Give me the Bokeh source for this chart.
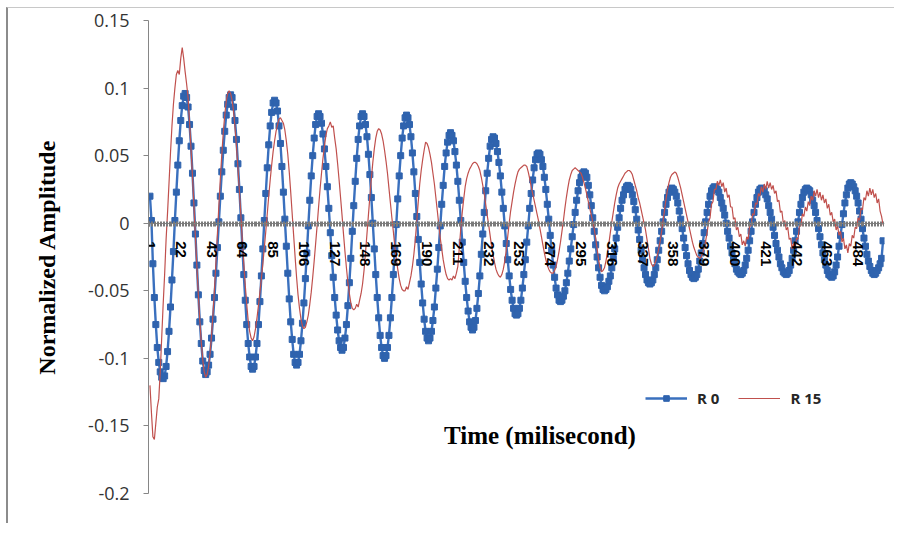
from bokeh.plotting import figure
from bokeh.models import Range1d, FixedTicker, Legend, LegendItem, Label
from bokeh.embed import file_html
from bokeh.resources import INLINE

# R0 values (in thousandths of normalized amplitude), samples 1..501
r0_milli = [
    20, 2, -30, -55, -75, -92, -103, -110, -114, -115,
    -113, -106, -95, -80, -62, -42, -21, 2, 23, 43,
    61, 76, 87, 94, 96, 93, 86, 73, 57, 37,
    15, -8, -31, -53, -73, -89, -102, -109, -112, -110,
    -105, -97, -85, -71, -55, -37, -18, 1, 20, 38,
    54, 68, 80, 88, 93, 95, 93, 86, 76, 62,
    44, 25, 4, -17, -38, -57, -75, -89, -99, -106,
    -108, -106, -99, -89, -75, -58, -39, -19, 2, 22,
    41, 58, 72, 82, 89, 91, 89, 83, 72, 59,
    42, 23, 3, -17, -37, -56, -73, -86, -97, -103,
    -105, -103, -97, -87, -74, -59, -41, -22, -2, 17,
    35, 50, 63, 73, 79, 81, 79, 74, 66, 55,
    42, 27, 11, -7, -24, -40, -55, -68, -79, -87,
    -92, -94, -92, -85, -75, -61, -44, -26, -6, 13,
    31, 48, 62, 72, 79, 81, 79, 73, 64, 51,
    36, 19, 0, -19, -38, -55, -70, -83, -92, -98,
    -100, -98, -92, -83, -70, -55, -38, -19, -1, 18,
    35, 50, 63, 72, 78, 80, 78, 73, 64, 52,
    38, 22, 5, -12, -29, -45, -59, -71, -80, -85,
    -87, -85, -80, -72, -62, -48, -34, -18, -2, 14,
    28, 42, 52, 60, 65, 67, 65, 61, 53, 43,
    31, 17, 2, -14, -29, -43, -55, -65, -73, -77,
    -79, -77, -72, -63, -52, -39, -23, -8, 8, 24,
    37, 48, 57, 62, 64, 63, 59, 53, 45, 35,
    23, 11, -2, -15, -27, -39, -49, -57, -63, -67,
    -68, -67, -63, -57, -48, -38, -27, -14, -2, 11,
    22, 32, 41, 47, 51, 52, 51, 47, 42, 34,
    25, 14, 3, -9, -20, -31, -40, -48, -53, -57,
    -58, -57, -54, -50, -44, -37, -28, -19, -10, -1,
    8, 17, 24, 30, 34, 37, 38, 37, 34, 28,
    21, 13, 4, -6, -16, -25, -33, -40, -46, -49,
    -50, -49, -47, -43, -39, -33, -26, -19, -11, -3,
    4, 11, 17, 21, 25, 27, 28, 27, 25, 21,
    16, 10, 3, -5, -12, -20, -27, -33, -38, -42,
    -44, -45, -44, -42, -38, -33, -27, -20, -13, -6,
    1, 8, 14, 19, 23, 25, 26, 25, 23, 20,
    15, 9, 3, -4, -11, -18, -24, -30, -35, -38,
    -40, -41, -40, -38, -34, -28, -22, -15, -7, 1,
    8, 14, 20, 24, 26, 27, 26, 25, 23, 19,
    15, 11, 6, 0, -6, -11, -17, -22, -26, -30,
    -34, -36, -37, -38, -37, -35, -31, -26, -20, -13,
    -6, 1, 8, 14, 19, 23, 25, 26, 25, 24,
    21, 18, 13, 8, 3, -3, -9, -15, -20, -25,
    -30, -33, -36, -37, -38, -37, -35, -31, -26, -20,
    -13, -6, 1, 8, 14, 19, 23, 25, 26, 25,
    24, 21, 17, 13, 8, 2, -4, -10, -16, -22,
    -27, -31, -35, -38, -39, -40, -39, -36, -31, -25,
    -17, -9, -1, 7, 15, 21, 26, 29, 30, 29,
    27, 24, 20, 15, 9, 3, -4, -11, -17, -23,
    -28, -32, -35, -37, -38, -37, -35, -33, -30, -26,
    -13,
]

# R15 values (in thousandths of normalized amplitude), samples 1..501
r15_milli = [
    -120, -140, -158, -160, -148, -136, -130, -110, -85, -60,
    -38, -12, 8, 30, 52, 72, 88, 100, 110, 113,
    110, 122, 130, 122, 112, 103, 93, 75, 55, 35,
    13, -10, -32, -53, -72, -88, -101, -110, -114, -112,
    -106, -96, -83, -67, -49, -29, -8, 13, 33, 51,
    67, 80, 90, 96, 98, 96, 91, 83, 71, 57,
    41, 24, 6, -13, -30, -46, -60, -72, -80, -85,
    -87, -84, -78, -70, -61, -51, -41, -30, -18, -6,
    7, 20, 32, 43, 53, 61, 68, 73, 77, 78,
    76, 74, 69, 61, 51, 38, 23, 7, -9, -25,
    -40, -53, -63, -71, -76, -78, -77, -73, -68, -60,
    -51, -40, -28, -15, -2, 12, 25, 37, 48, 57,
    65, 70, 72, 75, 71, 72, 63, 55, 44, 32,
    19, 6, -8, -21, -33, -44, -52, -59, -63, -64,
    -63, -60, -62, -57, -52, -45, -35, -22, -8, 6,
    20, 33, 45, 55, 63, 68, 70, 69, 66, 61,
    54, 46, 37, 26, 15, 4, -6, -17, -26, -34,
    -41, -46, -49, -50, -50, -47, -49, -44, -39, -32,
    -23, -12, 2, 16, 29, 39, 47, 54, 60, 59,
    56, 51, 45, 37, 29, 19, 9, -1, -11, -19,
    -27, -33, -38, -41, -42, -41, -42, -39, -41, -37,
    -32, -18, -4, 8, 18, 27, 33, 37, 40, 42,
    44, 45, 45, 44, 42, 39, 34, 28, 22, 14,
    6, -1, -9, -17, -23, -29, -34, -37, -39, -40,
    -38, -34, -28, -20, -10, 0, 9, 16, 23, 29,
    34, 38, 40, 41, 42, 43, 43, 42, 38, 33,
    27, 22, 17, 12, 7, 2, -4, -10, -16, -22,
    -27, -31, -34, -36, -37, -37, -35, -32, -27, -21,
    -14, -6, 2, 11, 19, 26, 32, 36, 39, 40,
    41, 40, 39, 38, 37, 34, 30, 26, 21, 16,
    11, 6, 1, -4, -11, -19, -27, -33, -36, -35,
    -33, -28, -22, -15, -7, 1, 8, 15, 21, 26,
    29, 31, 33, 35, 37, 38, 39, 39, 38, 36,
    32, 28, 24, 19, 15, 10, 5, 0, -5, -12,
    -19, -26, -30, -32, -31, -28, -24, -19, -13, -6,
    2, 10, 18, 25, 30, 34, 36, 37, 38, 37,
    34, 30, 26, 21, 16, 11, 6, 1, -4, -9,
    -14, -18, -21, -24, -25, -26, -25, -22, -18, -13,
    -7, 1, 4, 14, 16, 25, 25, 31, 28, 32,
    27, 30, 23, 26, 19, 21, 12, 12, 3, 4,
    -5, -3, -10, -8, -16, -13, -17, -10, -12, -2,
    -2, 7, 6, 15, 14, 22, 20, 27, 23, 29,
    25, 31, 26, 30, 25, 28, 22, 24, 16, 17,
    8, 9, 0, 2, -5, -3, -12, -11, -19, -15,
    -19, -11, -12, -2, -2, 7, 5, 12, 9, 16,
    13, 20, 17, 24, 20, 25, 19, 23, 17, 21,
    15, 18, 11, 14, 6, 8, 1, 3, -5, -2,
    -9, -6, -14, -11, -19, -16, -22, -15, -17, -9,
    -11, -3, -4, 4, 2, 11, 10, 19, 17, 24,
    20, 26, 21, 25, 19, 22, 15, 18, 9, 5,
    -1,
]

series_names = ["R 0", "R 15"]
x_tick_values = [1, 22, 43, 64, 85, 106, 127, 148, 169, 190, 211, 232,
                 253, 274, 295, 316, 337, 358, 379, 400, 421, 442, 463, 484]
y_tick_values = [-0.2, -0.15, -0.1, -0.05, 0, 0.05, 0.1, 0.15]
y_tick_labels = ["-0.2", "-0.15", "-0.1", "-0.05", "0", "0.05", "0.1", "0.15"]
x_title = "Time (milisecond)"
y_title = "Normalized Amplitude"

time = list(range(1, len(r0_milli) + 1))
r0 = [v / 1000 for v in r0_milli]
r15 = [v / 1000 for v in r15_milli]

p = figure(frame_width=736, frame_height=473,
           x_range=Range1d(0, 502), y_range=Range1d(-0.2, 0.15),
           output_backend="svg", toolbar_location=None,
           min_border_left=140, min_border_right=10,
           min_border_top=12, min_border_bottom=30)
p.background_fill_color = "white"
p.border_fill_color = "white"
p.outline_line_color = None
p.xgrid.visible = False
p.ygrid.visible = False
p.styles = {"margin-left": "6px", "margin-top": "7px",
            "border-left": "2px solid #8c8c8c", "border-top": "1px solid #c8c8c8"}

# x axis crossing at zero
xa = p.xaxis[0]
xa.fixed_location = 0
xa.ticker = FixedTicker(ticks=x_tick_values, minor_ticks=time)
xa.major_label_overrides = {v: str(v) for v in x_tick_values}
xa.major_label_orientation = "vertical"
xa.major_label_standoff = 15
xa.major_tick_in = 2
xa.major_tick_out = 3
xa.minor_tick_in = 2
xa.minor_tick_out = 3
xa.axis_line_color = "#868686"
xa.major_tick_line_color = "#7a7a7a"
xa.minor_tick_line_color = "#7a7a7a"
xa.major_label_text_font = "Liberation Sans"
xa.major_label_text_font_style = "bold"
xa.major_label_text_font_size = "15px"
xa.major_label_text_color = "black"

ya = p.yaxis[0]
ya.ticker = FixedTicker(ticks=y_tick_values, minor_ticks=[])
ya.major_label_overrides = dict(zip(y_tick_values, y_tick_labels))
ya.major_tick_in = 0
ya.major_tick_out = 5
ya.minor_tick_line_color = None
ya.axis_line_color = "#868686"
ya.major_tick_line_color = "#868686"
ya.major_label_standoff = 14
ya.major_label_text_font = "Open Sans"
ya.major_label_text_font_size = "18px"
ya.major_label_text_color = "#333333"
ya.axis_label = y_title
ya.axis_label_text_font = "Liberation Serif"
ya.axis_label_text_font_style = "bold"
ya.axis_label_text_font_size = "24px"
ya.axis_label_text_color = "black"
ya.axis_label_standoff = 25

blue_line = p.line(time, r0, line_color="#3A70BE", line_width=2.4)
blue_pts = p.scatter(time, r0, marker="square", size=6,
                     fill_color="#2F63AE", line_color="#2F63AE")
red_line = p.line(time, r15, line_color="#C0504D", line_width=1.2)

legend = Legend(items=[LegendItem(label=series_names[0], renderers=[blue_line, blue_pts]),
                       LegendItem(label=series_names[1], renderers=[red_line])],
                location=(497, 85), orientation="horizontal",
                glyph_width=42, glyph_height=14, label_standoff=10, spacing=19,
                padding=0, margin=0, border_line_color=None,
                background_fill_alpha=0,
                label_text_font="Open Sans", label_text_font_style="bold",
                label_text_font_size="15px", label_text_color="#262626")
p.add_layout(legend)

p.add_layout(Label(x=267, y=-0.157, text=x_title, text_align="center",
                   text_baseline="middle", text_font="Liberation Serif",
                   text_font_style="bold", text_font_size="25px",
                   text_color="black"))

open("out.html", "w").write(file_html(p, INLINE))
